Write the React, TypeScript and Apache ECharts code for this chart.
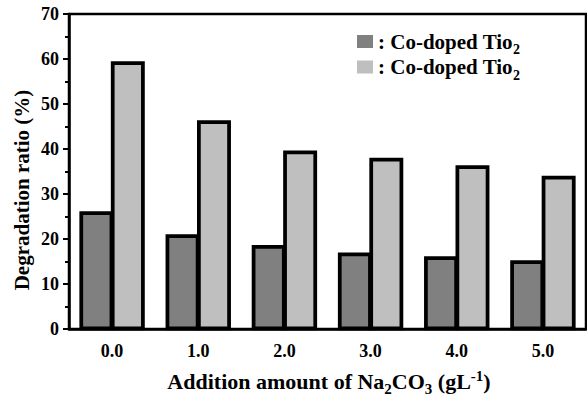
import React, { useEffect, useRef } from "react";
import * as echarts from "echarts";

const categories = ["0.0", "1.0", "2.0", "3.0", "4.0", "5.0"];
const darkValues = [25.9, 20.8, 18.4, 16.7, 15.9, 15.0];
const lightValues = [59.2, 46.1, 39.4, 37.8, 36.1, 33.8];
const seriesNames = ["Co-doped Tio2 (a)", "Co-doped Tio2 (b)"];
const seriesColors = ["#808080", "#bfbfbf"];

const FONT = "'Liberation Serif', 'Times New Roman', serif";
const GAP = 0.27;

function outlineSeries(values: number[], k: number) {
  return {
    name: "outline-" + k,
    type: "custom",
    z: 10,
    silent: true,
    xAxisIndex: 0,
    yAxisIndex: 0,
    encode: { x: 0, y: 1 },
    data: values.map((v, i) => [i, v]),
    renderItem: (params: any, api: any) => {
      const cat = api.value(0);
      const val = api.value(1);
      const base = api.coord([cat, 0]);
      const top = api.coord([cat, val]);
      const size = api.size([1, 0]);
      const bandW = Array.isArray(size) ? size[0] : size;
      const barW = (bandW * (1 - GAP)) / 2;
      const x0 = base[0] - barW + k * barW;
      return {
        type: "rect",
        shape: { x: x0, y: top[1], width: barW, height: base[1] - top[1] },
        style: { fill: "none", stroke: "#000", lineWidth: 2.5 },
      };
    },
  };
}

export default function App() {
  const ref = useRef<HTMLDivElement>(null);
  useEffect(() => {
    if (!ref.current) return;
    const chart = echarts.init(ref.current, undefined, { renderer: "svg" });
    const barStyle = (color: string) => ({
      color,
      borderColor: "#000000",
      borderWidth: 2.5,
    });
    chart.setOption({
      animation: false,
      backgroundColor: "#fff",
      grid: {
        left: 69,
        right: 1,
        top: 14,
        bottom: 68,
        show: true,
        borderColor: "#000",
        borderWidth: 2.5,
        backgroundColor: "transparent",
      },
      legend: {
        orient: "vertical",
        left: 352,
        top: 26,
        itemWidth: 16,
        itemHeight: 13,
        itemGap: 0,
        icon: "rect",
        itemStyle: { borderWidth: 0 },
        formatter: () => "{a|: Co-doped Tio}{b|2}",
        textStyle: {
          rich: {
            a: { fontFamily: FONT, fontWeight: "bold", fontSize: 21, color: "#000" },
            b: {
              fontFamily: FONT,
              fontWeight: "bold",
              fontSize: 14,
              color: "#000",
              padding: [16, 0, 0, 0],
            },
          },
        },
        data: seriesNames,
      },
      xAxis: [
        {
          type: "category",
          data: categories,
          position: "bottom",
          axisLine: { lineStyle: { color: "#000", width: 2.5 } },
          axisTick: {
            alignWithLabel: true,
            length: 7,
            lineStyle: { color: "#000", width: 2 },
          },
          axisLabel: {
            margin: 13,
            fontFamily: FONT,
            fontWeight: "bold",
            fontSize: 18,
            color: "#000",
          },
        },
        {
          type: "category",
          data: categories,
          position: "bottom",
          gridIndex: 0,
          axisLine: { show: false },
          axisTick: {
            alignWithLabel: false,
            length: 6,
            lineStyle: { color: "#000", width: 2 },
          },
          axisLabel: { show: false },
        },
      ],
      yAxis: {
        type: "value",
        min: 0,
        max: 70,
        interval: 10,
        splitLine: { show: false },
        axisLine: { show: true, lineStyle: { color: "#000", width: 2.5 } },
        axisTick: { show: true, length: 6, lineStyle: { color: "#000", width: 2 } },
        minorTick: { show: true, splitNumber: 2, length: 4, lineStyle: { color: "#000", width: 2 } },
        axisLabel: {
          margin: 10,
          fontFamily: FONT,
          fontWeight: "bold",
          fontSize: 18,
          color: "#000",
        },
      },
      series: [
        {
          name: seriesNames[0],
          type: "bar",
          data: darkValues,
          barGap: "0%",
          barCategoryGap: "27%",
          itemStyle: barStyle(seriesColors[0]),
        },
        {
          name: seriesNames[1],
          type: "bar",
          data: lightValues,
          barGap: "0%",
          barCategoryGap: "27%",
          itemStyle: barStyle(seriesColors[1]),
        },
        outlineSeries(darkValues, 0),
        outlineSeries(lightValues, 1),
      ],
      graphic: [
        {
          type: "text",
          x: 329,
          y: 381,
          style: {
            text: "{t|Addition amount of Na}{s|2}{t|CO}{s|3}{t| (gL}{p|-1}{t|)}",
            align: "center",
            verticalAlign: "middle",
            rich: {
              t: { fontFamily: FONT, fontWeight: "bold", fontSize: 22, fill: "#000" },
              s: { fontFamily: FONT, fontWeight: "bold", fontSize: 15, fill: "#000", padding: [16, 0, 0, 0] },
              p: { fontFamily: FONT, fontWeight: "bold", fontSize: 15, fill: "#000", padding: [0, 0, 10, 0] },
            },
          },
        },
        {
          type: "text",
          x: 22,
          y: 190,
          rotation: Math.PI / 2,
          style: {
            text: "Degradation ratio (%)",
            align: "center",
            verticalAlign: "middle",
            fontFamily: FONT,
            fontWeight: "bold",
            fontSize: 21,
            fill: "#000",
          },
        },
      ],
    });
    return () => chart.dispose();
  }, []);
  return <div ref={ref} style={{ width: 587, height: 397, position: "fixed", left: 0, top: 0 }} />;
}
